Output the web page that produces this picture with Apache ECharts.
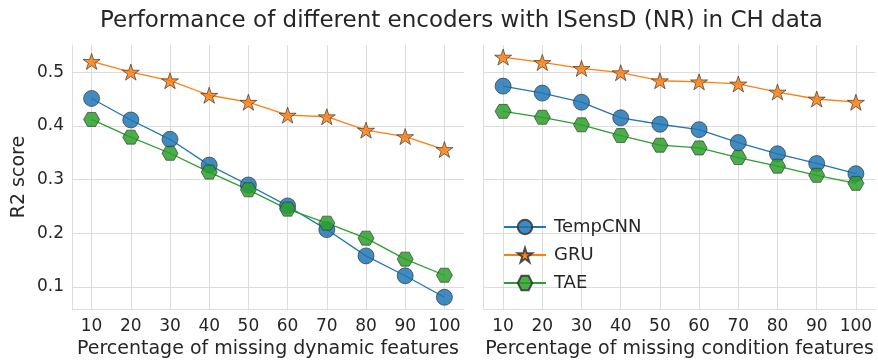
<!DOCTYPE html>
<html>
<head>
<meta charset="utf-8">
<script src="https://cdn.jsdelivr.net/npm/echarts@6/dist/echarts.min.js"></script>
<style>
  html, body { margin: 0; padding: 0; background: #fff; }
  #chart { width: 878px; height: 364px; }
</style>
</head>
<body>
<div id="chart"></div>
<script>
// missing percentage (x axis)
const pctMissing = [10, 20, 30, 40, 50, 60, 70, 80, 90, 100];
const yTicks = [0.1, 0.2, 0.3, 0.4, 0.5];

// left panel: missing dynamic features
const dynTempCNN = [0.451, 0.411, 0.375, 0.327, 0.290, 0.251, 0.207, 0.158, 0.121, 0.081];
const dynGRU     = [0.520, 0.500, 0.484, 0.457, 0.444, 0.420, 0.417, 0.392, 0.380, 0.356];
const dynTAE     = [0.412, 0.379, 0.349, 0.314, 0.281, 0.245, 0.219, 0.191, 0.152, 0.122];

// right panel: missing condition features
const condTempCNN = [0.474, 0.461, 0.444, 0.415, 0.403, 0.393, 0.369, 0.348, 0.330, 0.311];
const condGRU     = [0.528, 0.518, 0.507, 0.499, 0.484, 0.482, 0.478, 0.463, 0.450, 0.444];
const condTAE     = [0.427, 0.416, 0.402, 0.382, 0.364, 0.359, 0.341, 0.325, 0.308, 0.293];

const textColor = '#262626';
const gridColor = '#dcdcdc';
const fontFamily = 'DejaVu Sans';

// star marker (5 points, inner ratio like matplotlib)
function starPath() {
  const pts = [];
  for (let i = 0; i < 10; i++) {
    const r = i % 2 === 0 ? 1 : 0.382;
    const a = Math.PI / 2 + i * Math.PI / 5;
    pts.push((r * Math.cos(a)).toFixed(4) + ',' + (-r * Math.sin(a)).toFixed(4));
  }
  return 'path://M' + pts.join('L') + 'Z';
}
// flat-top hexagon
function hexPath() {
  const pts = [];
  for (let i = 0; i < 6; i++) {
    const a = i * Math.PI / 3;
    pts.push(Math.cos(a).toFixed(4) + ',' + Math.sin(a).toFixed(4));
  }
  return 'path://M' + pts.join('L') + 'Z';
}

const models = [
  { name: 'TempCNN', color: '#1f77b4', symbol: 'circle', size: 16, left: dynTempCNN, right: condTempCNN },
  { name: 'GRU', color: '#ff7f0e', symbol: starPath(), size: [17, 16], left: dynGRU, right: condGRU },
  { name: 'TAE', color: '#2ca02c', symbol: hexPath(), size: [16, 14], left: dynTAE, right: condTAE }
];

function xAxis(gridIndex, name) {
  return {
    type: 'value', gridIndex, min: 5, max: 105, name,
    nameLocation: 'middle', nameGap: 27,
    nameTextStyle: { color: textColor, fontSize: 19, fontFamily },
    axisLine: { show: true, lineStyle: { color: gridColor, width: 1 } },
    axisTick: { show: false, customValues: pctMissing },
    axisLabel: { customValues: pctMissing, color: textColor, fontSize: 17, fontFamily, margin: 9 },
    splitLine: { show: true, lineStyle: { color: gridColor, width: 1 } }
  };
}
function yAxis(gridIndex, showLabels) {
  return {
    type: 'value', gridIndex, min: 0.059, max: 0.5505,
    name: showLabels ? 'R2 score' : '',
    nameLocation: 'middle', nameGap: 43,
    nameTextStyle: { color: textColor, fontSize: 19, fontFamily },
    axisLine: { show: true, lineStyle: { color: gridColor, width: 1 } },
    axisTick: { show: false, customValues: yTicks },
    axisLabel: { show: showLabels, customValues: yTicks, color: textColor, fontSize: 17, fontFamily, margin: 8,
      formatter: v => v.toFixed(1) },
    splitLine: { show: true, lineStyle: { color: gridColor, width: 1 } }
  };
}

const series = [];
[0, 1].forEach(idx => {
  models.forEach(m => {
    series.push({
      name: m.name, type: 'line', xAxisIndex: idx, yAxisIndex: idx,
      data: pctMissing.map((x, i) => [x, (idx === 0 ? m.left : m.right)[i]]),
      symbol: m.symbol, symbolSize: m.size, showAllSymbol: true,
      lineStyle: { color: m.color, width: 1.3 },
      itemStyle: { color: m.color, opacity: 0.85, borderColor: '#333', borderWidth: 0.8 },
      emphasis: { disabled: true },
      animation: false, z: 3
    });
  });
});

const chart = echarts.init(document.getElementById('chart'), null, { renderer: 'canvas' });
chart.setOption({
  backgroundColor: '#fff',
  animation: false,
  title: {
    text: 'Performance of different encoders with ISensD (NR) in CH data',
    left: 95, top: 5,
    textStyle: { color: textColor, fontSize: 23, fontWeight: 'normal', fontFamily }
  },
  legend: {
    data: models.map(m => m.name),
    orient: 'vertical', left: 498, top: 213, itemGap: 10,
    itemWidth: 42, itemHeight: 18,
    textStyle: { color: textColor, fontSize: 18, fontFamily, padding: [0, 0, 0, 3] }
  },
  grid: [
    { left: 72, top: 45, width: 392, height: 266 },
    { left: 483.5, top: 45, width: 392, height: 266 }
  ],
  xAxis: [
    xAxis(0, 'Percentage of missing dynamic features'),
    xAxis(1, 'Percentage of missing condition features')
  ],
  yAxis: [yAxis(0, true), yAxis(1, false)],
  series
});
</script>
</body>
</html>
